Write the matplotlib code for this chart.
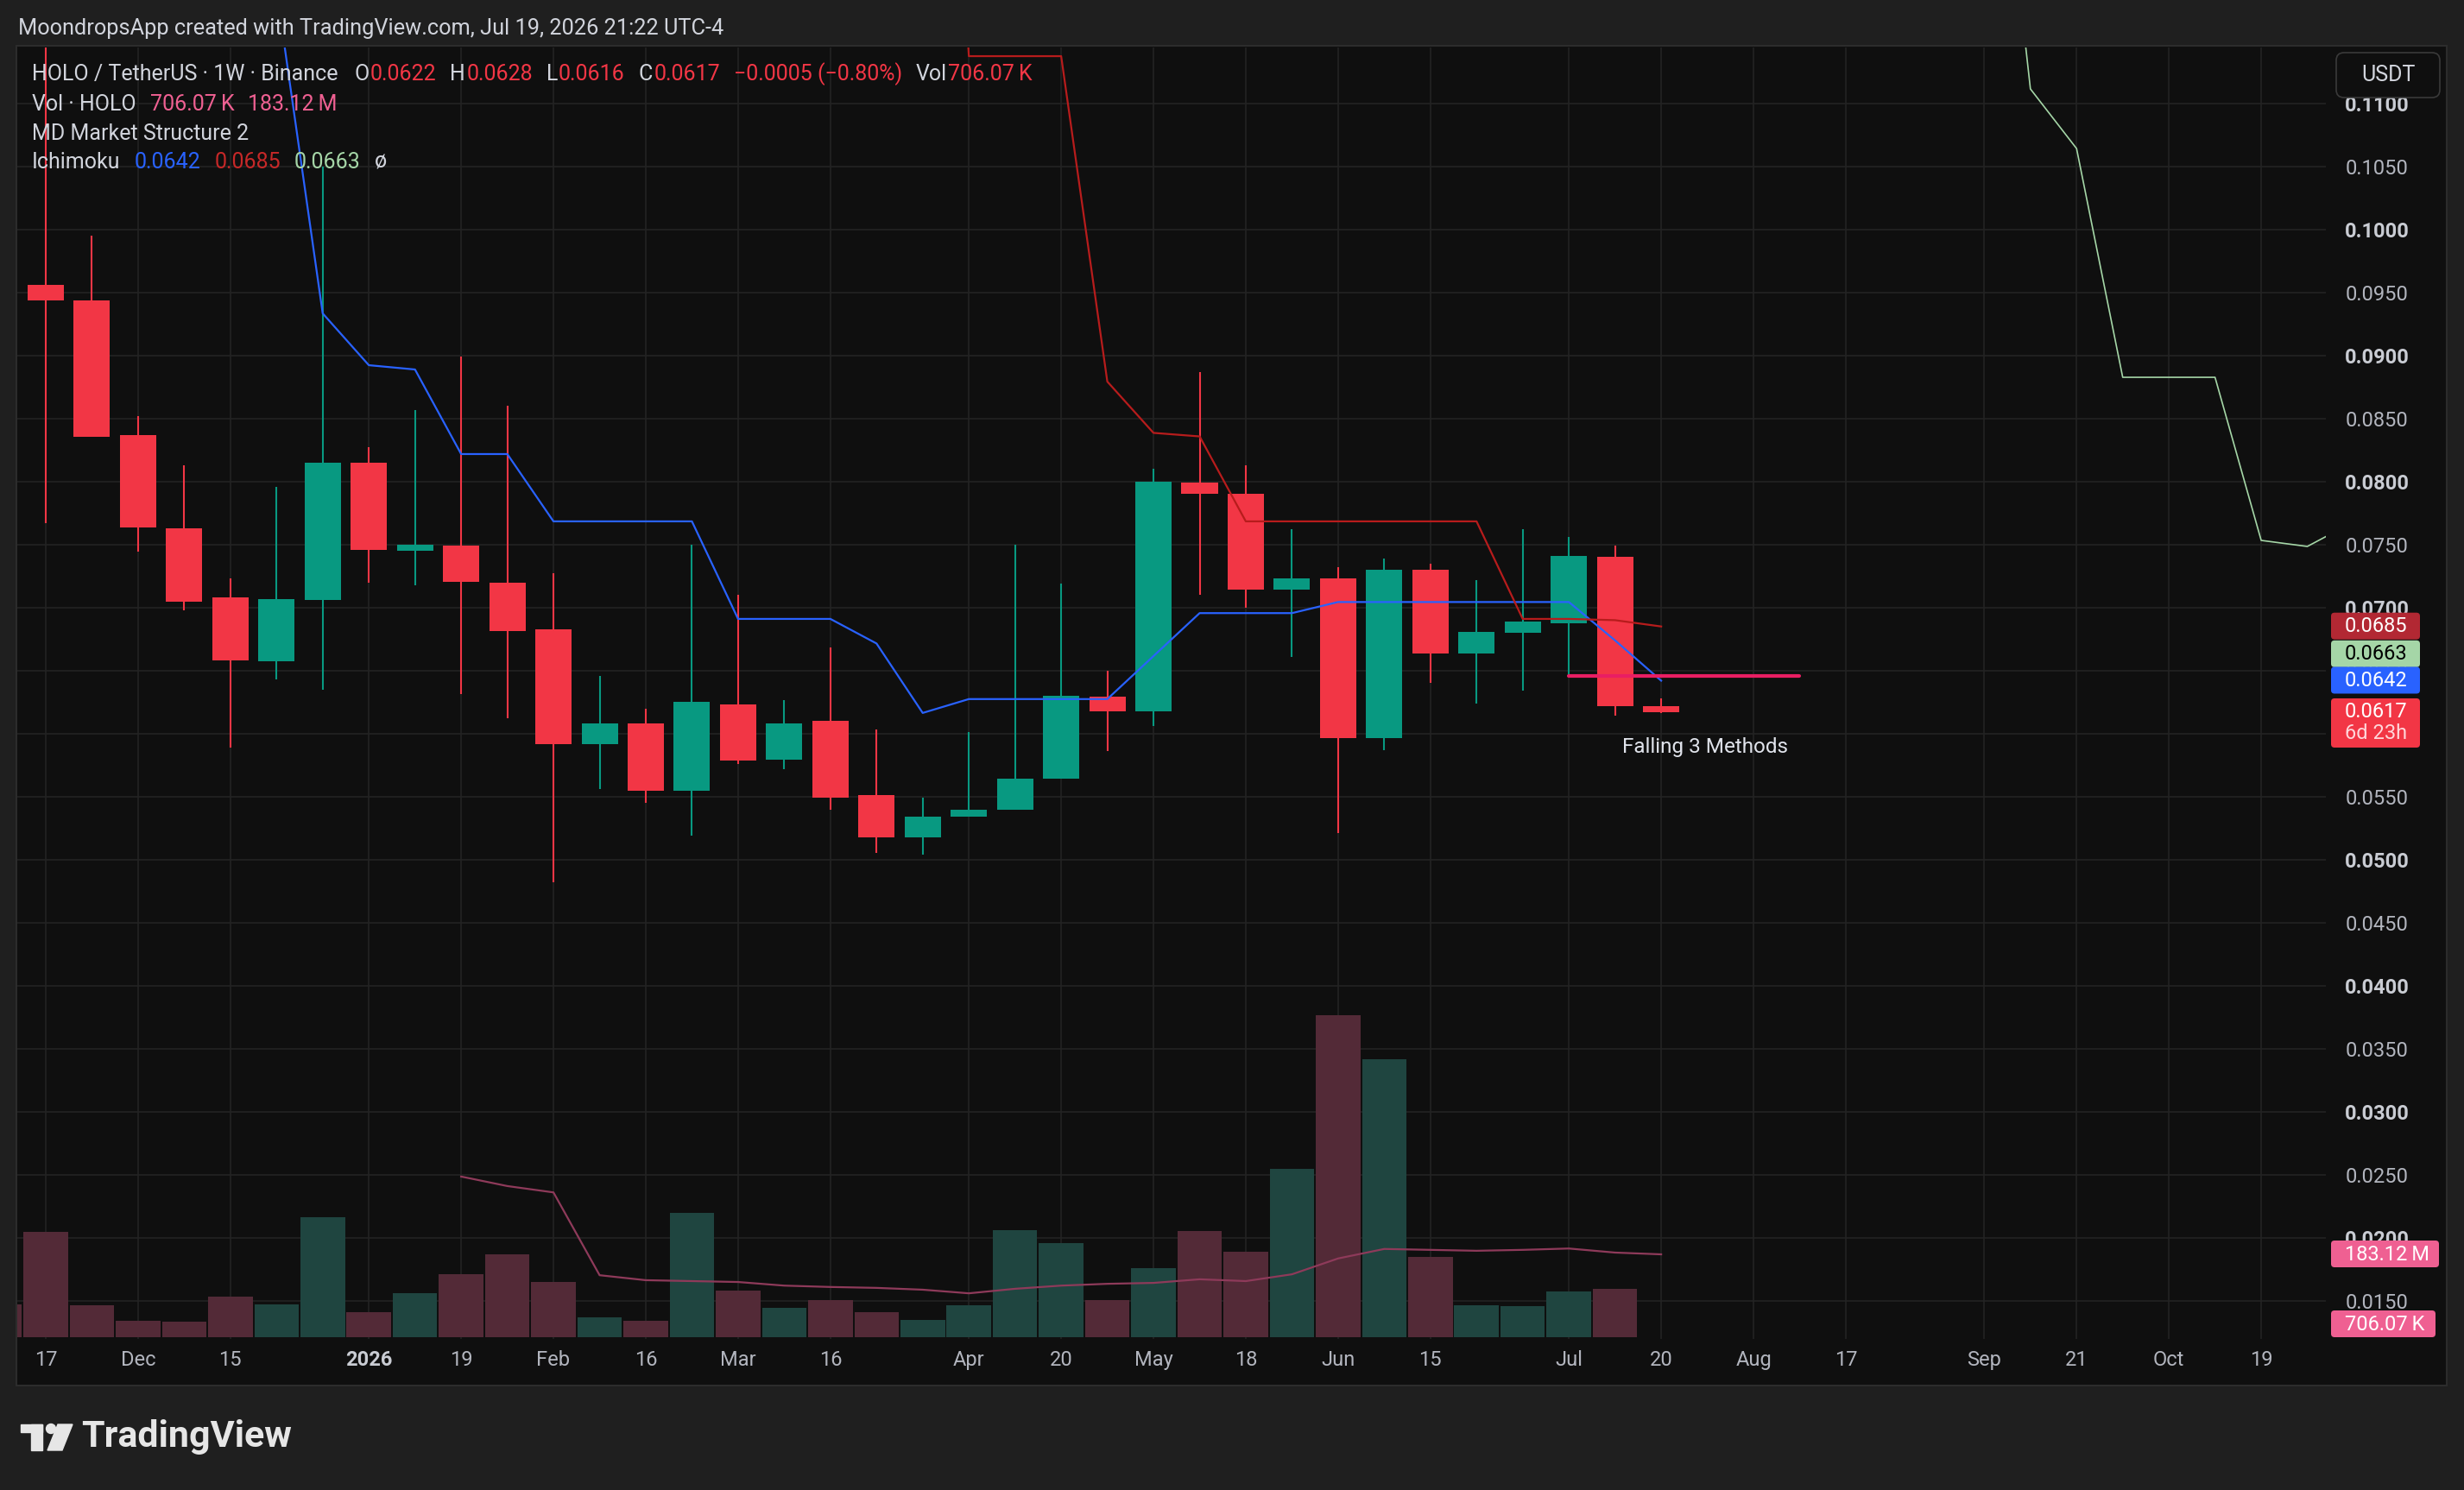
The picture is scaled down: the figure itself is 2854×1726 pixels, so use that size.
import numpy as np
import pandas as pd
import matplotlib
matplotlib.use("Agg")
import matplotlib.pyplot as plt
import matplotlib.dates as mdates
from matplotlib.patches import Rectangle, FancyBboxPatch, Circle, Polygon
from matplotlib.transforms import IdentityTransform

plt.rcParams['font.family'] = ['Roboto', 'DejaVu Sans']

# ------------------------------------------------------------------ data
dates = pd.date_range("2025-11-10", "2026-07-20", freq="7D")   # weekly bars

open_ = [np.nan, .09559, .09437, .08367, .07626, .07080, .06577, .07063, .08147, .07448,
         .07490, .07196, .06825, .05916, .06084, .05549, .06231, .05790, .06098, .05510,
         .05175, .05339, .05399, .05640, .06290, .06175, .07990, .07902, .07140, .07231,
         .05962, .07297, .06636, .06801, .06874, .07402, .0622]
high = [np.nan, .1180, .09951, .08517, .08129, .07231, .07958, .1050, .08273, .08566,
        .08993, .08601, .07273, .06455, .06196, .07497, .07101, .06269, .06682, .06031,
        .05490, .06010, .07497, .07189, .06497, .08101, .08867, .08129, .07622, .07318,
        .07388, .07346, .07217, .07622, .07559, .07490, .0628]
low = [np.nan, .07671, .08357, .07441, .06979, .05892, .06427, .06350, .07199, .07178,
       .06315, .06122, .04822, .05563, .05451, .05192, .05759, .05717, .05399, .05053,
       .05038, .05341, .05399, .05640, .05860, .06059, .07101, .06997, .06608, .05210,
       .05867, .06402, .06241, .06343, .06462, .06143, .0616]
close = [np.nan, .09434, .08357, .07636, .07049, .06584, .07066, .08147, .07455, .07497,
         .07206, .06815, .05916, .06084, .05549, .06252, .05787, .06080, .05490, .05175,
         .05339, .05399, .05640, .06297, .06175, .07997, .07902, .07140, .07231, .05962,
         .07297, .06636, .06804, .06888, .07409, .06217, .0617]

# volume in millions
volume = [72, 233, 71, 36, 34, 90, 72, 265, 55, 97, 139, 183, 122, 44, 36, 275, 103, 65,
          82, 55, 38, 71, 237, 208, 82, 153, 235, 189, 372, 711, 614, 177, 71, 69, 101,
          107, 0.70607]
vol_ma = [np.nan] * 10 + [355, 334, 320, 137, 126, 124, 122, 114, 111, 109, 105, 97, 107,
                          114, 118, 120, 128, 124, 139, 174, 195, 193, 191, 193, 196, 187,
                          183.12]

# ichimoku
tenkan = [np.nan] * 6 + [.1190, .09334, .08923, .08889, .08218, .08218, .07684, .07684,
                         .07684, .07684, .0691, .0691, .0691, .06715, .06164, .06274, .06274,
                         .06274, .06274, .06615, .06956, .06956, .06956, .07044, .07044,
                         .07044, .07044, .07044, .07044, .0674, .0642]
kijun = [np.nan] * 20 + [.175, .11375, .11375, .11375, .08793, .08386, .08358, .07684,
                         .07684, .07684, .07684, .07684, .07684, .0691, .0691, .0690, .0685]
span_dates = pd.date_range("2026-09-07", "2026-11-02", freq="7D")
span = [.144, .11115, .10642, .08827, .08827, .08827, .07533, .07485, .0768]
span_now = 0.0663

# market structure level and pattern label
struct_start, struct_end, struct_level = "2026-07-06", "2026-08-10", 0.0646
pattern_text, pattern_date, pattern_level = "Falling 3 Methods", "2026-07-20", 0.0589

tick_dates = ["2025-11-17", "2025-12-01", "2025-12-15", "2026-01-05", "2026-01-19",
              "2026-02-02", "2026-02-16", "2026-03-02", "2026-03-16", "2026-04-06",
              "2026-04-20", "2026-05-04", "2026-05-18", "2026-06-01", "2026-06-15",
              "2026-07-06", "2026-07-20", "2026-08-03", "2026-08-17", "2026-09-07",
              "2026-09-21", "2026-10-05", "2026-10-19"]
tick_labels = ["17", "Dec", "15", "2026", "19", "Feb", "16", "Mar", "16", "Apr", "20", "May",
               "18", "Jun", "15", "Jul", "20", "Aug", "17", "Sep", "21", "Oct", "19"]
price_ticks = np.round(np.arange(0.015, 0.1101, 0.005), 4)

# ------------------------------------------------------------------ style
W, H = 2854, 1726
BG, PANE = "#1f1f1f", "#0f0f0f"
UP, DOWN = "#089981", "#f23645"
VUP, VDOWN = "#1f4540", "#532a37"
TXT, AXT = "#d1d4dc", "#b2b5be"
PINK = "#ef6092"

fig = plt.figure(figsize=(W / 100, H / 100), dpi=100, facecolor=BG)
px = IdentityTransform()

# chart frame
fig.add_artist(Rectangle((19, H - 1605), 2815, 1552, facecolor=PANE, edgecolor="#2c2c2c",
                         lw=1.5, transform=px, zorder=-2))

rect = [20 / W, 1 - 1551 / H, 2674 / W, 1496 / H]
ax = fig.add_axes(rect, zorder=0)
ax_v = fig.add_axes(rect, sharex=ax, zorder=1)
ax.set_facecolor(PANE)
ax_v.axis("off")

x = mdates.date2num(dates.values)
o, h, l, c = map(np.array, (open_, high, low, close))
up = c >= o

px_day = 53.46 / 7
x0 = mdates.date2num(np.datetime64("2025-11-17"))
ax.set_xlim(x0 - 33 / px_day, x0 + 2641 / px_day)
ax.set_ylim(0.011973, 0.114438)
ax_v.set_ylim(-3.8, 2849.8)

# grid
ax.set_yticks(price_ticks)
ax.set_yticklabels([f"{v:.4f}" for v in price_ticks])
ax.set_xticks(mdates.date2num(pd.to_datetime(tick_dates).values))
ax.set_xticklabels(tick_labels)
ax.grid(color="#232323", lw=1.2)
ax.set_axisbelow(True)
ax.yaxis.tick_right()
ax.tick_params(axis="y", length=0, pad=16, labelsize=17, labelcolor=AXT)
ax.tick_params(axis="x", length=0, pad=9, labelsize=17, labelcolor=AXT)
for lab, v in zip(ax.get_yticklabels(), price_ticks):
    if round(v * 1000) % 10 == 0:
        lab.set_fontweight("bold")
        lab.set_color("#c9ccd3")
for lab in ax.get_xticklabels():
    if lab.get_text() == "2026":
        lab.set_fontweight("bold")
        lab.set_color("#c9ccd3")
for s in ax.spines.values():
    s.set_visible(False)

# volume
ax_v.bar(x, volume, width=6.75, color=[VUP if u else VDOWN for u in up], linewidth=0)
ax_v.plot(x, vol_ma, color="#8e3a5a", lw=1.6)

# candles
colors = np.where(up, UP, DOWN)
ok = ~np.isnan(o)
ax.vlines(x[ok], l[ok], h[ok], colors=colors[ok], lw=1.5, zorder=3)
body = np.maximum(np.abs(c - o), 0.0001)
ax.bar(x[ok], body[ok], bottom=np.minimum(o, c)[ok], width=5.5, color=colors[ok],
       linewidth=0, zorder=4)

# ichimoku
ax.plot(x, tenkan, color="#2962ff", lw=1.6, zorder=5)
ax.plot(x, kijun, color="#b71c1c", lw=1.6, zorder=5)
ax.plot(mdates.date2num(span_dates.values), span, color="#a5d6a7", lw=1.2, zorder=5)

# market structure
sx = mdates.date2num(pd.to_datetime([struct_start, struct_end]).values)
ax.plot(sx, [struct_level, struct_level], color="#e91e63", lw=3, solid_capstyle="round",
        zorder=6)
ax.annotate(pattern_text, xy=(mdates.date2num(np.datetime64(pattern_date)), pattern_level),
            xytext=(37, 0), textcoords="offset points", ha="center", va="center",
            fontsize=17.5, color="#e0e3eb", zorder=7)


# ------------------------------------------------------------------ price scale tags
def tag(axis, val, text, fc, tc, x1, y_min=None, sub=None):
    y = axis.transData.transform((x0, val))[1]
    if y_min is not None:
        y = max(y, y_min)
    top = y + 16
    bottom = y - 15 if sub is None else y - 41
    fig.add_artist(FancyBboxPatch((2700, bottom), x1 - 2700, top - bottom,
                                  boxstyle="round,pad=0,rounding_size=4", facecolor=fc,
                                  edgecolor="none", transform=px, zorder=8))
    fig.text(2716 / W, y / H, text, color=tc, fontsize=17, va="center", zorder=9)
    if sub is not None:
        fig.text(2716 / W, (y - 25) / H, sub, color="#ffd6da", fontsize=17, va="center",
                 zorder=9)


tag(ax, kijun[-1], f"{kijun[-1]:.4f}", "#b22833", "white", 2803)
tag(ax, span_now, f"{span_now:.4f}", "#a5d6a7", "black", 2803)
tag(ax, tenkan[-1], f"{tenkan[-1]:.4f}", "#2962ff", "white", 2803)
tag(ax, close[-1], f"{close[-1]:.4f}", DOWN, "white", 2803, sub="6d 23h")
tag(ax_v, vol_ma[-1], "183.12\u2009M", PINK, "white", 2825)
tag(ax_v, volume[-1], "706.07\u2009K", PINK, "white", 2821, y_min=H - 1551 + 17)

# currency button
fig.add_artist(FancyBboxPatch((2706, H - 113), 120, 52, boxstyle="round,pad=0,rounding_size=9",
                              facecolor=PANE, edgecolor="#3a3a3a", lw=1.2, transform=px,
                              zorder=8))
fig.text(2766 / W, (H - 87) / H, "USDT", color=TXT, fontsize=18, ha="center", va="center",
         zorder=9)

# ------------------------------------------------------------------ texts
fig.text(21 / W, 1 - 33 / H, "MoondropsApp created with TradingView.com, Jul 19, 2026 21:22 UTC-4",
         color=TXT, fontsize=18.3, va="center")

renderer = fig.canvas.get_renderer()


def chain(xp, ytop, parts, size=18):
    for s, col, gap in parts:
        t = fig.text(xp / W, 1 - ytop / H, s, color=col, fontsize=size, va="center", zorder=9)
        xp = t.get_window_extent(renderer=renderer).x1 + gap


RED = "#f23645"
chain(37, 86, [("HOLO / TetherUS · 1W · Binance", TXT, 19), ("O", TXT, 1), ("0.0622", RED, 16),
               ("H", TXT, 1), ("0.0628", RED, 16), ("L", TXT, 1), ("0.0616", RED, 16),
               ("C", TXT, 1), ("0.0617", RED, 16), ("\u22120.0005 (\u22120.80%)", RED, 16),
               ("Vol", TXT, 1), ("706.07\u2009K", RED, 0)])
chain(37, 121, [("Vol · HOLO", TXT, 16), ("706.07\u2009K", PINK, 16), ("183.12\u2009M", PINK, 0)])
chain(37, 155, [("MD Market Structure 2", TXT, 0)])
chain(37, 188, [("Ichimoku", TXT, 16), ("0.0642", "#2962ff", 16), ("0.0685", "#c62828", 16),
                ("0.0663", "#a5d6a7", 16), ("ø", TXT, 0)])

# TradingView logo
LOGO = "#e6e6e6"
fig.add_artist(Rectangle((24, H - 1659), 25, 9, color=LOGO, transform=px))
fig.add_artist(Rectangle((36, H - 1680), 13, 30, color=LOGO, transform=px))
fig.add_artist(Circle((59, H - 1655), 5.5, color=LOGO, transform=px))
fig.add_artist(Polygon([(67, H - 1650), (84, H - 1650), (72, H - 1680), (55, H - 1680)],
                       color=LOGO, transform=px))
fig.text(94 / W, 1 - 1664 / H, "TradingView", color=LOGO, fontsize=31, fontweight="bold",
         va="center")

fig.savefig("out.png", dpi=100, facecolor=BG)
